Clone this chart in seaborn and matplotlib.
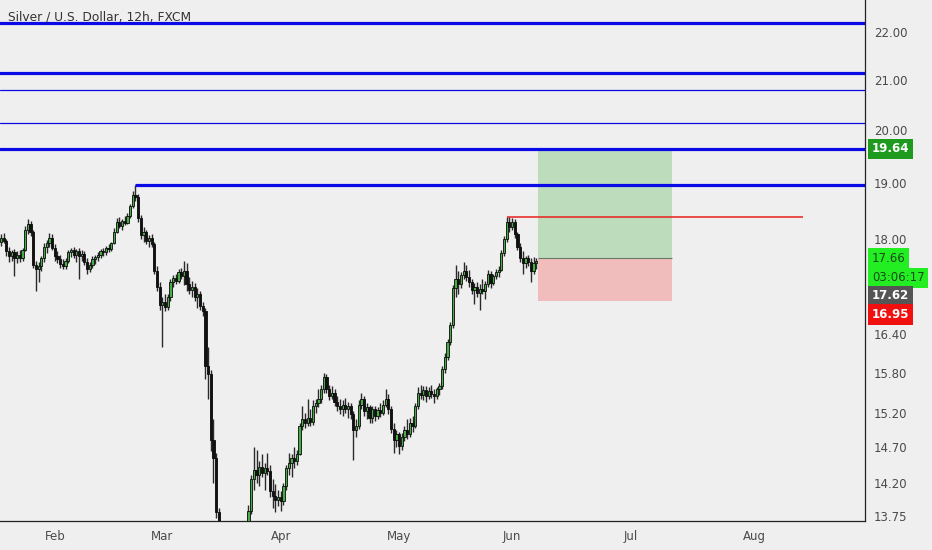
import matplotlib
matplotlib.use('Agg')
import matplotlib.pyplot as plt
from matplotlib.patches import Rectangle
from matplotlib.ticker import FixedLocator, FixedFormatter, NullLocator
import numpy as np
import pandas as pd
import seaborn as sns

# 12h candles, bar 0 ~ 2020-01-20
opens = [
    17.95, 18.02, 17.96, 17.78, 17.70, 17.76, 17.66, 17.72, 17.66, 17.80,
    18.15, 18.25, 18.12, 17.55, 17.48, 17.52, 17.66, 17.85, 17.92, 18.02,
    17.84, 17.70, 17.65, 17.56, 17.52, 17.62, 17.76, 17.80, 17.72, 17.78,
    17.70, 17.74, 17.60, 17.48, 17.55, 17.64, 17.68, 17.72, 17.78, 17.76,
    17.84, 17.82, 17.92, 18.12, 18.30, 18.22, 18.32, 18.28, 18.40, 18.58,
    18.78, 18.74, 18.36, 18.06, 18.12, 17.96, 18.02, 17.90, 17.45, 17.18,
    16.88, 16.92, 16.84, 17.00, 17.26, 17.32, 17.28, 17.42, 17.36, 17.44,
    17.22, 17.12, 17.18, 17.00, 17.06, 16.86, 16.78, 15.90, 15.78, 14.80,
    14.55, 13.80, 13.20, 12.55, 12.10, 12.45, 12.20, 12.60, 12.80, 12.55,
    12.80, 13.10, 13.45, 13.82, 14.25, 14.38, 14.30, 14.42, 14.34, 14.40,
    14.36, 14.08, 14.02, 13.96, 14.00, 13.95, 14.15, 14.40, 14.48, 14.55,
    14.50, 14.60, 15.00, 15.10, 15.04, 15.12, 15.06, 15.30, 15.35, 15.40,
    15.55, 15.74, 15.56, 15.45, 15.50, 15.36, 15.30, 15.25, 15.32, 15.26,
    15.30, 15.18, 14.95, 15.00, 15.32, 15.40, 15.22, 15.28, 15.12, 15.25,
    15.15, 15.24, 15.20, 15.32, 15.40, 15.25, 14.96, 14.80, 14.88, 14.72,
    14.84, 14.95, 14.88, 15.05, 15.00, 15.30, 15.50, 15.46, 15.54, 15.44,
    15.52, 15.48, 15.45, 15.55, 15.60, 15.86, 16.05, 16.28, 16.55, 17.15,
    17.30, 17.22, 17.38, 17.45, 17.34, 17.25, 17.12, 17.18, 17.08, 17.14,
    17.10, 17.22, 17.40, 17.24, 17.36, 17.42, 17.46, 17.75, 18.00, 18.30,
    18.20, 18.30, 18.08, 17.86, 17.66, 17.58, 17.66, 17.60, 17.45, 17.58,
]
highs = [
    18.08, 18.10, 18.00, 17.85, 17.80, 17.82, 17.78, 17.80, 17.84, 18.22,
    18.35, 18.32, 18.16, 17.62, 17.60, 17.70, 17.92, 17.98, 18.10, 18.08,
    17.90, 17.78, 17.72, 17.64, 17.66, 17.80, 17.84, 17.86, 17.82, 17.84,
    17.80, 17.78, 17.66, 17.60, 17.70, 17.72, 17.76, 17.82, 17.84, 17.88,
    17.90, 17.95, 18.18, 18.36, 18.38, 18.35, 18.40, 18.45, 18.62, 18.86,
    18.96, 18.80, 18.42, 18.20, 18.16, 18.06, 18.08, 17.95, 17.52, 17.25,
    17.00, 17.05, 17.05, 17.30, 17.38, 17.40, 17.48, 17.50, 17.62, 17.58,
    17.34, 17.28, 17.24, 17.15, 17.10, 16.92, 16.82, 16.20, 15.85, 15.10,
    14.62, 13.86, 13.30, 12.90, 12.60, 12.70, 12.80, 12.95, 13.00, 12.90,
    13.20, 13.50, 13.90, 14.30, 14.70, 14.66, 14.50, 14.60, 14.48, 14.62,
    14.44, 14.25, 14.18, 14.10, 14.08, 14.20, 14.45, 14.62, 14.60, 14.70,
    14.66, 15.05, 15.30, 15.20, 15.40, 15.25, 15.38, 15.40, 15.55, 15.62,
    15.80, 15.78, 15.62, 15.60, 15.55, 15.45, 15.40, 15.38, 15.42, 15.36,
    15.34, 15.22, 15.10, 15.38, 15.50, 15.45, 15.34, 15.32, 15.30, 15.30,
    15.28, 15.34, 15.38, 15.55, 15.48, 15.30, 15.05, 14.95, 14.92, 14.90,
    15.00, 15.10, 15.12, 15.15, 15.35, 15.58, 15.62, 15.60, 15.60, 15.58,
    15.62, 15.56, 15.58, 15.65, 15.90, 16.10, 16.32, 16.60, 17.20, 17.55,
    17.45, 17.42, 17.60, 17.55, 17.46, 17.30, 17.24, 17.26, 17.22, 17.30,
    17.28, 17.46, 17.44, 17.40, 17.48, 17.52, 17.80, 18.05, 18.38, 18.38,
    18.36, 18.34, 18.12, 17.92, 17.78, 17.70, 17.72, 17.66, 17.68, 17.66,
]
lows = [
    17.88, 17.92, 17.70, 17.60, 17.62, 17.36, 17.58, 17.60, 17.62, 17.78,
    18.08, 18.05, 17.50, 17.10, 17.25, 17.45, 17.60, 17.75, 17.85, 17.80,
    17.62, 17.58, 17.50, 17.48, 17.48, 17.58, 17.68, 17.66, 17.60, 17.30,
    17.62, 17.55, 17.40, 17.42, 17.50, 17.56, 17.62, 17.66, 17.70, 17.72,
    17.76, 17.78, 17.90, 18.10, 18.18, 18.16, 18.24, 18.25, 18.36, 18.54,
    18.68, 18.30, 18.00, 17.95, 17.90, 17.86, 17.86, 17.40, 17.10, 16.80,
    16.20, 16.78, 16.80, 16.95, 17.18, 17.22, 17.24, 17.30, 17.20, 17.10,
    17.05, 17.00, 16.95, 16.82, 16.80, 16.70, 15.70, 15.40, 14.65, 14.20,
    13.72, 13.05, 12.40, 11.64, 11.90, 12.00, 11.80, 12.30, 12.45, 12.40,
    12.70, 13.00, 13.40, 13.78, 14.10, 14.20, 14.15, 14.28, 14.10, 14.30,
    14.00, 13.85, 13.80, 13.88, 13.82, 13.90, 14.10, 14.30, 14.28, 14.40,
    14.44, 14.58, 14.95, 14.98, 15.00, 15.00, 15.02, 15.20, 15.28, 15.34,
    15.50, 15.50, 15.38, 15.40, 15.30, 15.22, 15.18, 15.15, 15.20, 15.12,
    15.10, 14.52, 14.85, 14.96, 15.25, 15.15, 15.10, 15.05, 15.05, 15.08,
    15.10, 15.14, 15.16, 15.28, 15.18, 14.90, 14.62, 14.70, 14.60, 14.66,
    14.78, 14.82, 14.85, 14.92, 14.98, 15.26, 15.40, 15.38, 15.36, 15.40,
    15.42, 15.35, 15.40, 15.46, 15.56, 15.80, 16.00, 16.24, 16.50, 17.00,
    17.05, 17.15, 17.30, 17.28, 17.18, 17.05, 16.90, 17.00, 16.80, 17.05,
    16.98, 17.18, 17.15, 17.20, 17.30, 17.34, 17.44, 17.70, 17.95, 18.12,
    18.15, 18.02, 17.80, 17.60, 17.40, 17.50, 17.52, 17.25, 17.40, 17.48,
]
closes = [
    18.02, 17.96, 17.78, 17.70, 17.76, 17.66, 17.72, 17.66, 17.80, 18.15,
    18.25, 18.12, 17.55, 17.48, 17.52, 17.66, 17.85, 17.92, 18.02, 17.84,
    17.70, 17.65, 17.56, 17.52, 17.62, 17.76, 17.80, 17.72, 17.78, 17.70,
    17.74, 17.60, 17.48, 17.55, 17.64, 17.68, 17.72, 17.78, 17.76, 17.84,
    17.82, 17.92, 18.12, 18.30, 18.22, 18.32, 18.28, 18.40, 18.58, 18.78,
    18.74, 18.36, 18.06, 18.12, 17.96, 18.02, 17.90, 17.45, 17.18, 16.88,
    16.92, 16.84, 17.00, 17.26, 17.32, 17.28, 17.42, 17.36, 17.44, 17.22,
    17.12, 17.18, 17.00, 17.06, 16.86, 16.78, 15.90, 15.78, 14.80, 14.55,
    13.80, 13.20, 12.55, 12.10, 12.45, 12.20, 12.60, 12.80, 12.55, 12.80,
    13.10, 13.45, 13.82, 14.25, 14.38, 14.30, 14.42, 14.34, 14.40, 14.36,
    14.08, 14.02, 13.96, 14.00, 13.95, 14.15, 14.40, 14.48, 14.55, 14.50,
    14.60, 15.00, 15.10, 15.04, 15.12, 15.06, 15.30, 15.35, 15.40, 15.55,
    15.74, 15.56, 15.45, 15.50, 15.36, 15.30, 15.25, 15.32, 15.26, 15.30,
    15.18, 14.95, 15.00, 15.32, 15.40, 15.22, 15.28, 15.12, 15.25, 15.15,
    15.24, 15.20, 15.32, 15.40, 15.25, 14.96, 14.80, 14.88, 14.72, 14.84,
    14.95, 14.88, 15.05, 15.00, 15.30, 15.50, 15.46, 15.54, 15.44, 15.52,
    15.48, 15.45, 15.55, 15.60, 15.86, 16.05, 16.28, 16.55, 17.15, 17.30,
    17.22, 17.38, 17.45, 17.34, 17.25, 17.12, 17.18, 17.08, 17.14, 17.10,
    17.22, 17.40, 17.24, 17.36, 17.42, 17.46, 17.75, 18.00, 18.30, 18.20,
    18.30, 18.08, 17.86, 17.66, 17.58, 17.66, 17.60, 17.45, 17.58, 17.62,
]

# drawn levels
full_levels_thick = [22.19, 21.14, 19.64]
full_levels_thin = [20.79, 20.15]
peak_level = 18.96
recent_high = 18.38
entry_price = 17.66
target_price = 19.64
stop_price = 16.95
last_price = 17.62
countdown = '03:06:17'

ytick_values = [22.00, 21.00, 20.00, 19.00, 18.00, 16.40, 15.80, 15.20, 14.70, 14.20, 13.75]
month_names = ['Feb', 'Mar', 'Apr', 'May', 'Jun', 'Jul', 'Aug']
first_day = '2020-01-20'

BG = '#efefef'
BLUE = '#0a0ae6'

sns.set_theme(style='white', rc={'axes.facecolor': BG, 'figure.facecolor': BG})
plt.rcParams['font.family'] = ['DejaVu Sans']

df = pd.DataFrame({'open': opens, 'high': highs, 'low': lows, 'close': closes})
df['bar'] = np.arange(len(df))
df['up'] = df['close'] >= df['open']

fig = plt.figure(figsize=(9.32, 5.5), dpi=100)
ax = fig.add_axes([0, 29 / 550, 865 / 932, 521 / 550])
ax.set_facecolor(BG)

# wicks
ax.vlines(df['bar'], df['low'], df['high'], color='#2a2a2a', linewidth=1.0, zorder=3)
# bodies
body_lo = df[['open', 'close']].min(axis=1)
body_h = (df['close'] - df['open']).abs()
body_h = body_h.where(body_h > 0.01, 0.01)
colors = np.where(df['up'], '#46ad46', '#111111')
ax.bar(df['bar'], body_h, bottom=body_lo, width=0.82, color=colors,
       edgecolor='#0a0a0a', linewidth=0.6, zorder=4)

# horizontal levels
for lv in full_levels_thick:
    ax.axhline(lv, color=BLUE, linewidth=2.3, zorder=5)
for lv in full_levels_thin:
    ax.axhline(lv, color=BLUE, linewidth=0.9, zorder=5)
ax.hlines(peak_level, 49.8, 330, color=BLUE, linewidth=2.3, zorder=5)
ax.hlines(recent_high, 188.2, 298.2, color='#e8201c', linewidth=1.1, zorder=6)

# long position box
box_x0, box_x1 = 199.6, 249.5
ax.add_patch(Rectangle((box_x0, entry_price), box_x1 - box_x0, target_price - entry_price,
                       facecolor='#bcdcbc', edgecolor='none', zorder=2))
ax.add_patch(Rectangle((box_x0, stop_price), box_x1 - box_x0, entry_price - stop_price,
                       facecolor='#f0bcbc', edgecolor='none', zorder=2))
ax.hlines(entry_price, box_x0, box_x1, color='#6a7a6a', linewidth=0.8, zorder=3)

ax.set_yscale('log')
ax.set_ylim(13.68, 22.70)
ax.set_xlim(-0.37, 321.2)

ax.yaxis.set_major_locator(FixedLocator(ytick_values))
ax.yaxis.set_major_formatter(FixedFormatter([f'{v:.2f}' for v in ytick_values]))
ax.yaxis.set_minor_locator(NullLocator())
ax.yaxis.tick_right()

days = pd.bdate_range(first_day, '2020-08-31')
month_pos = []
for m in range(2, 9):
    idx = np.argmax(days.month == m)
    month_pos.append(2 * idx)
ax.set_xticks(month_pos)
ax.set_xticklabels(month_names)

ax.tick_params(axis='both', which='major', direction='out', length=3.5, width=0.8,
               color='#333333', labelcolor='#4a4a4a', labelsize=8.5, pad=3)
ax.tick_params(axis='x', pad=3)
ax.tick_params(axis='y', left=False, right=True)

sns.despine(ax=ax, left=True, top=True, right=False, bottom=False)
for s in ['right', 'bottom']:
    ax.spines[s].set_color('#222222')
    ax.spines[s].set_linewidth(0.9)

ax.text(8 / 865, 1 - 17 / 521, 'Silver / U.S. Dollar, 12h, FXCM', transform=ax.transAxes,
        ha='left', va='center', fontsize=8.8, color='#333333', zorder=6)


def price_tag(price, text, bg, fg, dy=0, bold=True):
    ax.annotate(text, xy=(1, price), xycoords=('axes fraction', 'data'),
                xytext=(7, dy), textcoords='offset pixels', ha='left', va='center',
                fontsize=8.5, color=fg, fontweight='bold' if bold else 'normal',
                annotation_clip=False, zorder=10,
                bbox=dict(boxstyle='square,pad=0.3', facecolor=bg, edgecolor='none'))


price_tag(target_price, f'{target_price:.2f}', '#1e9a1e', 'white')
price_tag(entry_price, f'{entry_price:.2f}', '#22ee22', '#1a4a1a', bold=False)
price_tag(last_price, countdown, '#22ee22', '#1a4a1a', dy=-17, bold=False)
price_tag(last_price, f'{last_price:.2f}', '#555555', 'white', dy=-35)
price_tag(stop_price, f'{stop_price:.2f}', '#f01010', 'white', dy=-14)

fig.savefig('out.png', dpi=100, facecolor=BG)
